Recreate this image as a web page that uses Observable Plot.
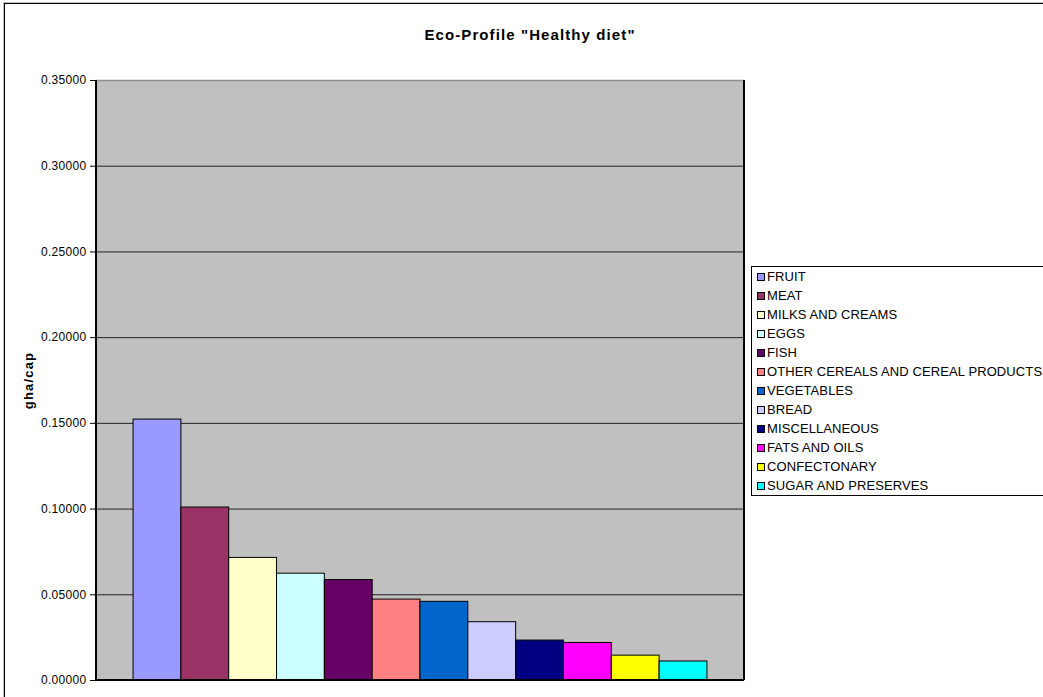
<!DOCTYPE html>
<html>
<head>
<meta charset="utf-8">
<script src="https://cdn.jsdelivr.net/npm/d3@7"></script>
<script src="https://cdn.jsdelivr.net/npm/@observablehq/plot@0.6"></script>
<style>
  html, body { margin: 0; padding: 0; background: #fff; }
  body { font-family: "Liberation Sans", Arial, sans-serif; }
  #wrap { position: relative; width: 1043px; height: 697px; overflow: hidden; background: #fff; }
  #frame { position: absolute; left: 4px; top: 3px; width: 1200px; height: 900px;
           border-left: 1.5px solid #000; border-top: 1.5px solid #000;
           box-shadow: -1px -1px 0 #bbb; }
  #chart { position: absolute; left: 0; top: 0; }
  #title { position: absolute; left: 430px; width: 200px; top: 26px; text-align: center;
           font-weight: bold; font-size: 15px; letter-spacing: 1.1px; color: #000; white-space: nowrap;
           display: flex; justify-content: center; }
  #legend { position: absolute; left: 751px; top: 266px; width: 400px; height: 230px;
            border: 1px solid #000; background: #fff; padding-top: 0px; box-sizing: border-box; }
  .li { height: 19px; display: flex; align-items: center; font-size: 13px; letter-spacing: 0.1px;
        color: #000; white-space: nowrap; }
  .sw { width: 6px; height: 6px; border: 1px solid #000; margin-left: 5px; margin-right: 2px; flex: none; }
  #chart svg [aria-label="y-axis label"] text { font-weight: bold; font-size: 13px; letter-spacing: 1.2px; }
  #chart svg [aria-label="y-axis tick label"] text { letter-spacing: 0.3px; }
</style>
</head>
<body>
<div id="wrap">
  <div id="frame"></div>
  <div id="chart"></div>
  <div id="title"></div>
  <div id="legend"></div>
</div>
<script>
const title = 'Eco-Profile "Healthy diet"';
const yLabel = "gha/cap";
const categories = ["FRUIT", "MEAT", "MILKS AND CREAMS", "EGGS", "FISH",
  "OTHER CEREALS AND CEREAL PRODUCTS", "VEGETABLES", "BREAD", "MISCELLANEOUS",
  "FATS AND OILS", "CONFECTONARY", "SUGAR AND PRESERVES"];
const values = [0.1522, 0.1009, 0.0715, 0.0623, 0.0586, 0.0472, 0.0459, 0.0340,
  0.0233, 0.0219, 0.0145, 0.0111];
const colors = ["#9999FF", "#993366", "#FFFFCC", "#CCFFFF", "#660066", "#FF8080",
  "#0066CC", "#CCCCFF", "#000080", "#FF00FF", "#FFFF00", "#00FFFF"];
const yTicks = [0, 0.05, 0.10, 0.15, 0.20, 0.25, 0.30, 0.35];

const data = categories.map((c, i) => ({category: c, value: values[i]}));

const chart = Plot.plot({
  width: 1043,
  height: 697,
  marginTop: 80,
  marginBottom: 17,
  marginLeft: 96,
  marginRight: 299,
  style: {fontFamily: "Liberation Sans, Arial, sans-serif", fontSize: "12px", background: "transparent", color: "#000"},
  x: {type: "band", domain: categories, paddingInner: 0, paddingOuter: 0.775, round: false, axis: null},
  y: {domain: [0, 0.35], ticks: yTicks},
  color: {domain: categories, range: colors},
  marks: [
    Plot.frame({fill: "#C0C0C0", stroke: null}),
    Plot.gridY(yTicks, {stroke: "#202020", strokeOpacity: 1, strokeWidth: 1}),
    Plot.barY(data, {x: "category", y: "value", fill: "category", stroke: "#000", strokeWidth: 1}),
    Plot.ruleY([0.35], {stroke: "#909090", strokeWidth: 1.5}),
    Plot.axisY(yTicks, {tickFormat: d3.format(".5f"), tickSize: 6, tickPadding: 4, fontSize: 12,
      label: yLabel, labelAnchor: "center", labelArrow: "none", labelOffset: 73})
  ]
});
const svg = d3.select(chart);
document.getElementById("chart").appendChild(chart);

// plot-area borders, placed through the library's scales
const ys = chart.scale("y");
const left = 96, right = 1043 - 299;
const g = svg.append("g").attr("fill", "none").attr("stroke", "#000").attr("stroke-width", 2);
g.append("line").attr("x1", left).attr("x2", left).attr("y1", ys.apply(0.35)).attr("y2", ys.apply(0));
g.append("line").attr("x1", right).attr("x2", right).attr("y1", ys.apply(0.35)).attr("y2", ys.apply(0));
g.append("line").attr("x1", left).attr("x2", right).attr("y1", ys.apply(0)).attr("y2", ys.apply(0));

document.getElementById("title").textContent = title;
const legend = document.getElementById("legend");
categories.forEach((c, i) => {
  const row = document.createElement("div");
  row.className = "li";
  const sw = document.createElement("span");
  sw.className = "sw";
  sw.style.background = colors[i];
  row.appendChild(sw);
  row.appendChild(document.createTextNode(c));
  legend.appendChild(row);
});
</script>
</body>
</html>
